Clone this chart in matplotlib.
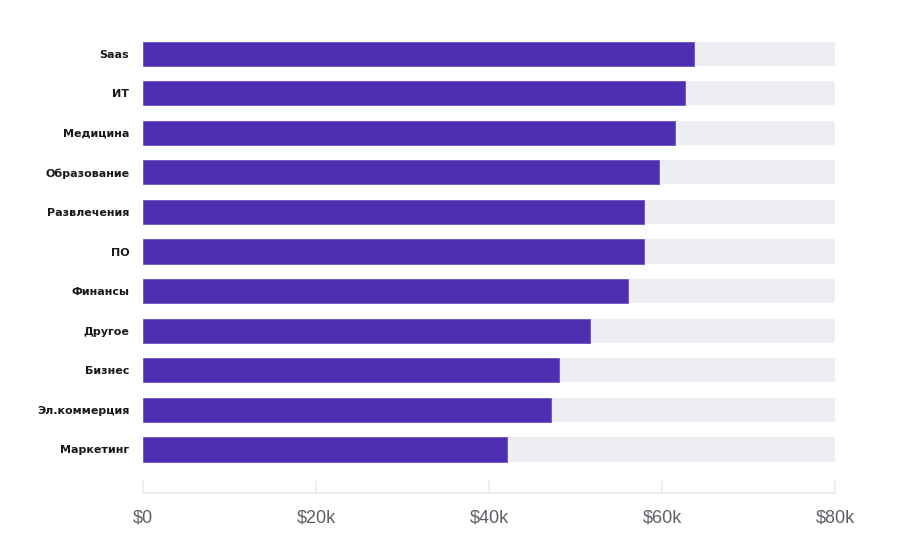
import matplotlib
matplotlib.use("Agg")
import matplotlib.pyplot as plt
import numpy as np

# industries, top to bottom
categories = ['Saas', 'ИТ', 'Медицина', 'Образование', 'Развлечения', 'ПО',
              'Финансы', 'Другое', 'Бизнес', 'Эл.коммерция', 'Маркетинг']
# values in $k
values = [63.7, 62.7, 61.5, 59.6, 57.9, 57.9, 56.1, 51.7, 48.1, 47.2, 42.1]
max_value = 80
xticks = [0, 20, 40, 60, 80]
xtick_labels = ['$0', '$20k', '$40k', '$60k', '$80k']

fig = plt.figure(figsize=(8.99, 5.49), dpi=100)
ax = fig.add_axes([0.1591, 0.1020, 0.7697, 0.8363])

y = np.arange(len(categories))
ax.barh(y, [max_value] * len(categories), height=0.61, color='#eeedf1', zorder=1)
ax.barh(y, values, height=0.61, color='#4e2eb1', edgecolor='#6a4fc4',
        linewidth=0.6, zorder=2)

ax.set_xlim(0, max_value)
ax.set_ylim(11.1, -0.5)

ax.set_yticks(y)
ax.set_yticklabels(categories, fontsize=8, fontweight='bold', color='#1a1a1a',
                   family='DejaVu Sans')
ax.tick_params(axis='y', length=0, pad=10)

ax.set_xticks(xticks)
ax.set_xticklabels(xtick_labels, fontsize=13, color='#5f5f68', family='Liberation Sans')
ax.tick_params(axis='x', direction='in', length=9.5, width=1.2, color='#ececec', pad=12)

for s in ['top', 'right', 'left']:
    ax.spines[s].set_visible(False)
ax.spines['bottom'].set_color('#ececec')
ax.spines['bottom'].set_linewidth(1.5)

fig.savefig('out.png', dpi=100, facecolor='white')
